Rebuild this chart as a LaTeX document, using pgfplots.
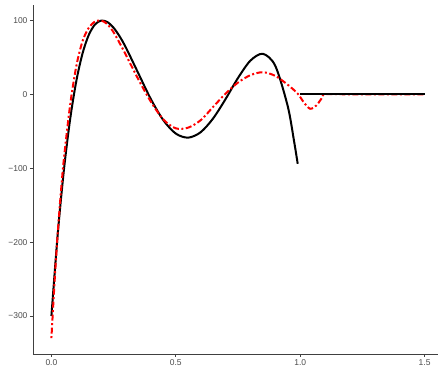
\documentclass[border=0pt]{standalone}
\usepackage{pgfplots}
\pgfplotsset{compat=1.18}
\usepackage{fontspec}
\setmainfont{Liberation Sans}
\usetikzlibrary{calc}
\begin{document}
\begin{tikzpicture}
\begin{axis}[
  scale only axis, width=405pt, height=349pt,
  xmin=-0.074, xmax=1.554, ymin=-351.5, ymax=121,
  axis lines=left, axis line style={-, line width=0.9pt, draw=black!75},
  xtick={0,0.5,1,1.5}, xticklabels={0.0,0.5,1.0,1.5},
  ytick={-300,-200,-100,0,100},
  yticklabels={−300,−200,−100,0,100},
  tick align=outside, major tick length=3pt,
  tick style={line width=0.7pt, draw=black!75},
  tick label style={font=\fontsize{8.5}{10}\selectfont, text=black!70},
  xticklabel style={yshift=1pt},
  yticklabel style={xshift=1pt},
  clip=false,
]
\addplot[black, line width=2pt, smooth] coordinates {
(0,-300) (0.025,-190.9) (0.05,-103.1) (0.075,-34.3) (0.1,17.8) (0.125,55.3)
(0.15,80.3) (0.175,94.6) (0.2,99.9) (0.225,97.9) (0.25,90.2) (0.275,78.1) (0.3,63.0) (0.35,28.1)
(0.4,-6.6) (0.45,-35.0) (0.5,-53.1) (0.55,-58.6) (0.6,-51.2) (0.65,-32.6)
(0.7,-6.4) (0.75,22.2) (0.8,45.7) (0.85,54.9) (0.9,38.6) (0.95,-16.1)
(0.975,-62.5) (0.99,-94)
};
\addplot[red, line width=2pt, smooth, dash pattern=on 2pt off 2.5pt on 6pt off 2.5pt] coordinates {
(0,-330) (0.0125,-255) (0.025,-190) (0.0375,-135) (0.05,-88) (0.075,-15) (0.1,38) (0.125,72)
(0.15,90) (0.175,98.5) (0.2,100) (0.225,95) (0.25,84) (0.275,69) (0.3,53) (0.35,20)
(0.4,-10) (0.45,-34) (0.5,-46) (0.55,-45) (0.6,-35) (0.65,-17) (0.7,1)
(0.75,16) (0.8,26) (0.85,30) (0.9,25) (0.95,13) (0.99,1) (1.015,-11)
(1.04,-19.5) (1.065,-15) (1.085,-6) (1.1,0) (1.2,0) (1.3,0) (1.4,0) (1.5,0)
};
\addplot[black, line width=2pt] coordinates {(1,0) (1.5,0)};
\end{axis}
\pgfresetboundingbox
\path ($(current axis.south west)+(-33pt,-14pt)$) rectangle ($(current axis.north east)+(0pt,5pt)$);
\end{tikzpicture}
\end{document}
